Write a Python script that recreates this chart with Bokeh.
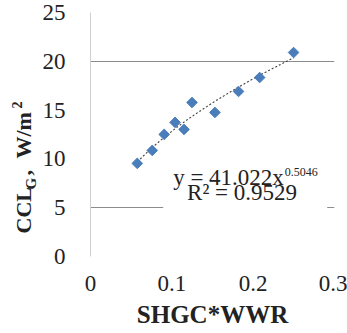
import numpy as np
from bokeh.plotting import figure
from bokeh.layouts import row
from bokeh.core.properties import value
from bokeh.models import Range1d, FixedTicker, Label, BoxAnnotation, ColumnDataSource
from bokeh.embed import file_html
from bokeh.resources import INLINE

# ---- data ----
x_vals = [0.0575, 0.0759, 0.0906, 0.104, 0.115, 0.1248, 0.153, 0.182, 0.208, 0.2497]
y_vals = [9.54, 10.87, 12.51, 13.74, 13.02, 15.78, 14.76, 16.91, 18.34, 20.90]
fit_a = 41.022
fit_b = 0.5046
r2 = 0.9529
x_ticks = [0, 0.1, 0.2, 0.3]
x_tick_labels = ["0", "0.1", "0.2", "0.3"]
y_ticks = [0, 5, 10, 15, 20, 25]
grid_lines = [5, 20]
x_title = "SHGC*WWR"
y_title_parts = ["CCL", "G", ",", "W/m", "2"]

SERIF = "Liberation Serif"
TXT = "#222222"
W, H = 347, 333
LEFT_W = 39
FRAME_TOP, FRAME_BOTTOM = 12, 256   # page rows of the plot frame

# ---- main chart ----
p = figure(width=W - LEFT_W, height=H, output_backend="svg", toolbar_location=None,
           x_range=Range1d(0, 0.3), y_range=Range1d(0, 25),
           min_border_left=89 - LEFT_W, min_border_right=13,
           min_border_top=FRAME_TOP, min_border_bottom=H - FRAME_BOTTOM)
p.outline_line_color = None
p.background_fill_color = "white"

p.xaxis.ticker = FixedTicker(ticks=x_ticks)
p.xaxis.major_label_overrides = {t: l for t, l in zip(x_ticks, x_tick_labels)}
p.yaxis.ticker = FixedTicker(ticks=y_ticks)
for ax in (p.xaxis[0], p.yaxis[0]):
    ax.major_tick_line_color = None
    ax.minor_tick_line_color = None
    ax.major_label_text_font = SERIF
    ax.major_label_text_font_size = "23px"
    ax.major_label_text_color = TXT
p.xaxis.axis_line_color = None
p.yaxis.axis_line_color = "#D0D0D0"
p.xaxis.major_label_standoff = 13
p.yaxis.major_label_standoff = 19

p.xaxis.axis_label = x_title
p.xaxis.axis_label_text_font = SERIF
p.xaxis.axis_label_text_font_size = "25px"
p.xaxis.axis_label_text_font_style = "bold"
p.xaxis.axis_label_text_color = TXT
p.xaxis.axis_label_standoff = 7

p.xgrid.grid_line_color = None
p.ygrid.ticker = FixedTicker(ticks=grid_lines)
p.ygrid.grid_line_color = "#8C8C8C"
p.ygrid.grid_line_width = 1

# white box behind the equation
p.add_layout(BoxAnnotation(left=0.0894, right=0.291, bottom=4.6, top=9.6,
                           fill_color="white", fill_alpha=1.0, line_color=None,
                           level="underlay"))

# power-law trendline
xs = np.array(sorted(x_vals))
p.line(xs, fit_a * xs ** fit_b, line_color="#404040", line_width=1.1, line_dash="2 2")

# points
src = ColumnDataSource(dict(x=x_vals, y=y_vals))
p.scatter("x", "y", source=src, marker="square", angle=np.pi / 4, size=7.5,
          fill_color="#4A7EBB", line_color="#4A7EBB")

# equation text
p.add_layout(Label(x=0.1016, y=8.09, text=f"y = {fit_a:.3f}x", text_font=SERIF,
                   text_font_size="23px", text_color=TXT, text_baseline="middle"))
p.add_layout(Label(x=0.2387, y=8.62, text=f"{fit_b:.4f}", text_font=SERIF,
                   text_font_size="12px", text_color=TXT, text_baseline="middle"))
p.add_layout(Label(x=0.1187, y=6.55, text=f"R\u00b2 = {r2:.4f}", text_font=SERIF,
                   text_font_size="23px", text_color=TXT, text_baseline="middle"))

# ---- narrow strip holding the rotated y-axis title ----
# its frame is aligned with the main frame by the row layout, so map page rows directly
q = figure(width=LEFT_W, height=H, output_backend="svg", toolbar_location=None,
           x_range=Range1d(0, LEFT_W), y_range=Range1d(H - FRAME_BOTTOM, H - FRAME_TOP),
           min_border_left=0, min_border_right=0,
           min_border_top=FRAME_TOP, min_border_bottom=H - FRAME_BOTTOM,
           x_axis_type=None, y_axis_type=None)
q.outline_line_color = None
q.xgrid.visible = False
q.ygrid.visible = False

# (column centre x, start row from top, font size)
placements = [(23, 233, "22px"), (30.5, 189, "15px"), (23, 175, "22px"),
              (23, 158, "22px"), (16, 108, "14px")]
for txt, (cx, sy, size) in zip(y_title_parts, placements):
    q.text(x=[cx], y=[H - sy], text=[txt], angle=np.pi / 2,
           text_font=value(SERIF), text_font_size=value(size),
           text_font_style="bold", text_color=TXT,
           text_align="left", text_baseline="middle")

layout = row(q, p, spacing=0)
open("out.html", "w").write(file_html(layout, INLINE))
